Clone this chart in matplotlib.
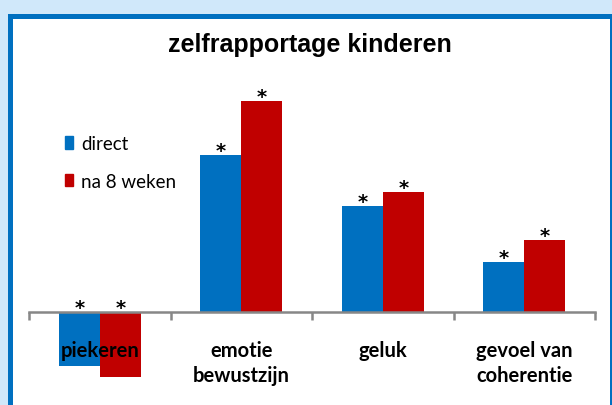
import matplotlib
matplotlib.use("Agg")
import matplotlib.pyplot as plt
from matplotlib.patches import Rectangle, Patch

W, H = 612, 406

categories = ["piekeren", "emotie\nbewustzijn", "geluk", "gevoel van\ncoherentie"]
direct = [-0.27, 0.785, 0.53, 0.25]
na_8_weken = [-0.325, 1.055, 0.60, 0.36]
stars_direct = ["*", "*", "*", "*"]
stars_8w = ["*", "*", "*", "*"]

BLUE = "#0070C0"
RED = "#C00000"
BG = "#D0E8FA"


def fx(px):
    return px / W


def fy(py):
    return 1 - py / H


fig = plt.figure(figsize=(W / 100, H / 100), dpi=100, facecolor=BG)

# frame: blue border on top/left, white panel
fig.patches.append(Rectangle((fx(8), 0), fx(604), fy(15), transform=fig.transFigure,
                             facecolor=BLUE, edgecolor="none", zorder=-3))
fig.patches.append(Rectangle((fx(13), 0), fx(597), fy(20), transform=fig.transFigure,
                             facecolor="white", edgecolor="none", zorder=-2))

# axes: x from 29 to 595 px, zero line at y=313 px, 200 px per unit
top_px, bot_px = 60, 395
ax = fig.add_axes([fx(29), fy(bot_px), fx(566), (bot_px - top_px) / H])
ax.set_zorder(1)
ax.set_facecolor("none")
ax.set_xlim(-0.5, 3.5)
ax.set_ylim(-(bot_px - 313) / 200, (313 - top_px) / 200)

x = range(len(categories))
w = 0.29
ax.bar([i - w / 2 for i in x], direct, w, color=BLUE, label="direct")
ax.bar([i + w / 2 for i in x], na_8_weken, w, color=RED, label="na 8 weken")

for i in x:
    for dx, v, s in ((-w / 2, direct[i], stars_direct[i]), (w / 2, na_8_weken[i], stars_8w[i])):
        ax.annotate(s, (i + dx, max(v, 0)), xytext=(0, -3.5), textcoords="offset points",
                    ha="center", va="bottom", fontsize=14, fontweight="bold",
                    family="DejaVu Sans")

for s in ("top", "right", "left"):
    ax.spines[s].set_visible(False)
ax.spines["bottom"].set_position(("data", 0))
ax.spines["bottom"].set_color("#878787")
ax.spines["bottom"].set_linewidth(1.8)
ax.set_yticks([])

ax.set_xticks(list(x))
ax.set_xticklabels(categories, fontsize=14.5, fontweight="bold", family="Lato",
                   linespacing=1.3)
ax.set_xticks([-0.5, 0.5, 1.5, 2.5, 3.5], minor=True)
ax.tick_params(axis="x", which="major", length=0, pad=20)
ax.tick_params(axis="x", which="minor", length=6, width=1.8, color="#878787", direction="out")

fig.text(fx(310), fy(45), "zelfrapportage kinderen", ha="center", va="center",
         fontsize=18, fontweight="bold", family="Liberation Sans")

handles = [Patch(color=BLUE, label="direct"), Patch(color=RED, label="na 8 weken")]
fig.legend(handles=handles, loc="upper left", bbox_to_anchor=(fx(48), fy(119)),
           frameon=False, prop={"family": "Lato", "size": 13.5},
           handlelength=0.45, handleheight=0.65, handletextpad=0.4, labelspacing=1.1)

fig.savefig("out.png", dpi=100, facecolor=BG)
